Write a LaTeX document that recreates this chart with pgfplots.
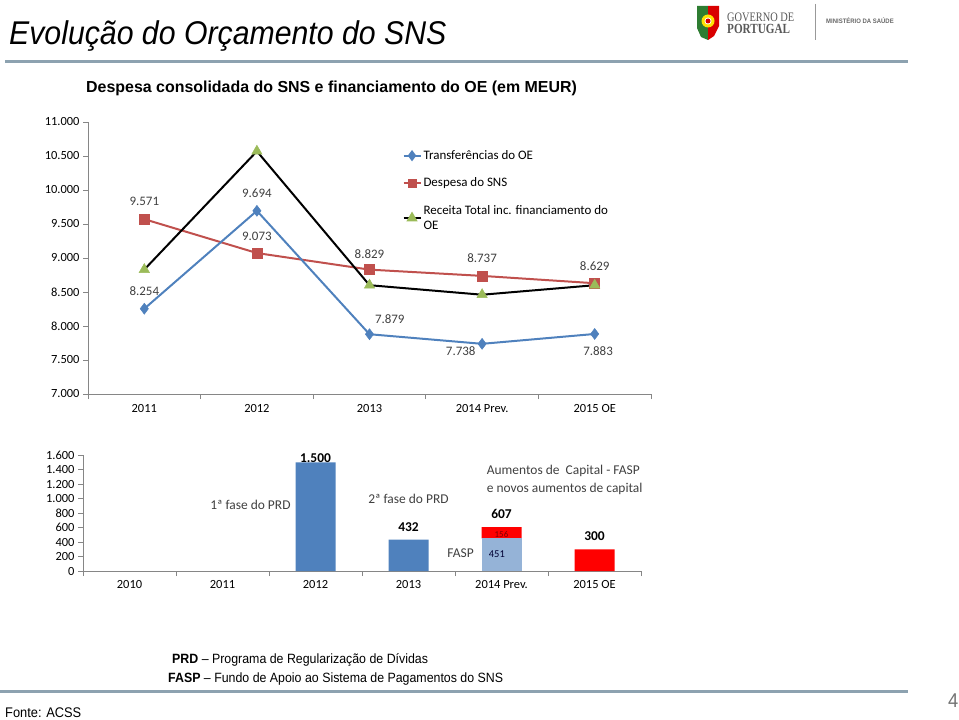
\documentclass[border=0pt]{standalone}
\usepackage{pgfplots}
\pgfplotsset{compat=1.18}
\usepackage{fontspec}
\setmainfont{Carlito}
\newfontfamily\narrow[FakeStretch=0.92]{Liberation Sans}
\newfontfamily\subt[FakeStretch=1.0]{Liberation Sans}
\newfontfamily\serifl[FakeStretch=0.8]{Liberation Serif}
\definecolor{tblue}{HTML}{4F81BD}
\definecolor{dred}{HTML}{C0504D}
\definecolor{rgreen}{HTML}{9BBB59}
\definecolor{lblue}{HTML}{95B3D7}
\definecolor{rulec}{HTML}{8DA2B0}
\definecolor{axc}{HTML}{868686}
\definecolor{txt}{HTML}{404040}
\definecolor{pgreen}{HTML}{2E7D32}
\tikzset{lab/.style={font=\fontsize{13}{15}\selectfont, text=txt},
  blab/.style={font=\fontsize{13.5}{15}\selectfont\bfseries, text=black},
  ann/.style={font=\fontsize{13.5}{15}\selectfont, text=txt}}
\begin{document}
\begin{tikzpicture}[x=1bp,y=-1bp]
\path[use as bounding box] (0,0) rectangle (959,720);
% header
\node[anchor=base west, inner sep=0] at (9,45) {\fontsize{33}{38}\selectfont\narrow\itshape Evolução do Orçamento do SNS};
\draw[rulec, line width=3bp] (5,62) -- (908,62);
\node[anchor=base west, inner sep=0] at (86,93) {\fontsize{16}{18}\selectfont\subt\bfseries Despesa consolidada do SNS e financiamento do OE (em MEUR)};
% logo
\fill[pgreen] (697,6) -- (708,6) -- (708,40) -- (701,37) -- (697,28) -- cycle;
\fill[red!85!black] (708,6) -- (719,6) -- (719,26) -- (714,36) -- (708,40) -- cycle;
\fill[yellow!85!orange] (708,21) circle (6.5);
\fill[white] (708,21) circle (3.5);
\fill[red!85!black] (708,21) circle (2.5);
\node[anchor=base west, inner sep=0, text=black!65] at (727,22) {\fontsize{13}{14}\selectfont\serifl GOVERNO DE};
\node[anchor=base west, inner sep=0, text=black!65] at (727,34) {\fontsize{14}{15}\selectfont\serifl\bfseries PORTUGAL};
\draw[black!40, line width=0.8bp] (815,4) -- (815,40);
\node[anchor=base west, inner sep=0, text=black!60] at (826,24) {\fontsize{6.5}{7}\selectfont\narrow\bfseries MINISTÉRIO DA SAÚDE};
% top chart
\begin{axis}[at={(88bp,-394bp)}, anchor=south west, scale only axis, width=563bp, height=272bp,
  xmin=-0.5, xmax=4.5, ymin=7000, ymax=11000, clip=false,
  axis lines=left, axis line style={axc, -, line width=0.8bp},
  xtick={-0.5,0.5,...,4.5}, xticklabels={,,,,,,},
  extra x ticks={0,1,2,3,4}, extra x tick labels={2011,2012,2013,2014 Prev.,2015 OE},
  extra x tick style={major tick length=0pt, xticklabel style={yshift=-7bp}},
  ytick={7000,7500,...,11000},
  tick align=outside, major tick length=5bp, tick style={axc, line width=0.8bp},
  scaled y ticks=false,
  yticklabel style={/pgf/number format/.cd, 1000 sep={.}, fixed, assume math mode=true},
  xticklabel style={/pgf/number format/assume math mode=true},
  ticklabel style={font=\fontsize{12.5}{14}\selectfont, text=black},
]
\addplot[dred, line width=2bp, mark=square*, mark size=5bp, mark options={fill=dred, line width=0.5bp}] coordinates {(0,9571)(1,9073)(2,8829)(3,8737)(4,8629)};
\addplot[black, line width=2bp, mark=triangle*, mark size=6bp, mark options={fill=rgreen, draw=rgreen, line width=0.5bp}] coordinates {(0,8830)(1,10570)(2,8600)(3,8460)(4,8600)};
\addplot[tblue, line width=2bp, mark=diamond*, mark size=5.5bp, mark options={fill=tblue, line width=0.5bp}] coordinates {(0,8254)(1,9694)(2,7879)(3,7738)(4,7883)};
\end{axis}
\begin{axis}[at={(88bp,-394bp)}, anchor=south west, scale only axis, width=563bp, height=272bp,
  xmin=-0.5, xmax=4.5, ymin=7000, ymax=11000, clip=false, hide axis,
  legend style={at={(0.553,0.911)}, anchor=north west, draw=none, fill=none,
    font=\fontsize{13}{15}\selectfont, row sep=13bp, cells={anchor=west, align=left}},
  legend cell align=left,
]
\addlegendimage{tblue, line width=2bp, mark=diamond*, mark size=4bp, mark options={fill=tblue}}
\addlegendentry{Transferências do OE}
\addlegendimage{dred, line width=2bp, mark=square*, mark size=3.5bp, mark options={fill=dred}}
\addlegendentry{Despesa do SNS}
\addlegendimage{black, line width=2bp, mark=triangle*, mark size=4.5bp, mark options={fill=rgreen, draw=rgreen}}
\addlegendentry{Receita Total inc. financiamento do\\OE}
\node[lab] at (axis cs:0,9840) {9.571};
\node[lab] at (axis cs:0,8515) {8.254};
\node[lab] at (axis cs:1,9956) {9.694};
\node[lab] at (axis cs:1,9324) {9.073};
\node[lab] at (axis cs:2,9059) {8.829};
\node[lab] at (axis cs:2.18,8103) {7.879};
\node[lab] at (axis cs:3,9000) {8.737};
\node[lab] at (axis cs:2.81,7632) {7.738};
\node[lab] at (axis cs:4,8882) {8.629};
\node[lab] at (axis cs:4.03,7632) {7.883};
\end{axis}
% bottom chart
\begin{axis}[at={(83bp,-571bp)}, anchor=south west, scale only axis, width=558bp, height=116bp,
  xmin=-0.5, xmax=5.5, ymin=0, ymax=1600, clip=false,
  ybar stacked, bar width=40bp,
  axis lines=left, axis line style={axc, -, line width=0.8bp},
  xtick={-0.5,0.5,...,5.5}, xticklabels={,,,,,,,},
  extra x ticks={0,1,2,3,4,5}, extra x tick labels={2010,2011,2012,2013,2014 Prev.,2015 OE},
  extra x tick style={major tick length=0pt, xticklabel style={yshift=-6bp}},
  ytick={0,200,...,1600},
  tick align=outside, major tick length=5bp, tick style={axc, line width=0.8bp},
  scaled y ticks=false,
  yticklabel style={/pgf/number format/.cd, 1000 sep={.}, fixed, assume math mode=true},
  xticklabel style={/pgf/number format/assume math mode=true},
  ticklabel style={font=\fontsize{12.5}{14}\selectfont, text=black},
]
\addplot[fill=tblue, draw=none] coordinates {(0,0)(1,0)(2,1500)(3,432)(4,0)(5,0)};
\addplot[fill=lblue, draw=none] coordinates {(0,0)(1,0)(2,0)(3,0)(4,451)(5,0)};
\addplot[fill=red, draw=none] coordinates {(0,0)(1,0)(2,0)(3,0)(4,156)(5,300)};
\end{axis}
\begin{axis}[at={(83bp,-571bp)}, anchor=south west, scale only axis, width=558bp, height=116bp,
  xmin=-0.5, xmax=5.5, ymin=0, ymax=1600, clip=false, hide axis,
]
\node[blab] at (axis cs:2,1560) {1.500};
\node[blab] at (axis cs:3,607) {432};
\node[blab] at (axis cs:4,786) {607};
\node[blab] at (axis cs:5,483) {300};
\node[font=\fontsize{9}{10}\selectfont, text=red!50!black] at (axis cs:4,510) {156};
\node[font=\fontsize{10.5}{11}\selectfont, text=black!80!blue] at (axis cs:3.95,234) {451};
\node[ann] at (axis cs:3.56,248) {FASP};
\node[ann] at (axis cs:1.3,910) {1ª fase do PRD};
\node[ann] at (axis cs:3,993) {2ª fase do PRD};
\node[ann, anchor=west, inner sep=0] at (axis cs:3.84,1379) {Aumentos de\ \ Capital - FASP};
\node[ann, anchor=west, inner sep=0] at (axis cs:3.84,1131) {e novos aumentos de capital};
\end{axis}
% footer
\node[anchor=base west, inner sep=0] at (172,663) {\fontsize{13.5}{15}\selectfont\narrow\textbf{PRD} – Programa de Regularização de Dívidas};
\node[anchor=base west, inner sep=0] at (168,682) {\fontsize{13.5}{15}\selectfont\narrow\textbf{FASP} – Fundo de Apoio ao Sistema de Pagamentos do SNS};
\draw[rulec, line width=3bp] (0,691) -- (908,691);
\node[anchor=base west, inner sep=0] at (5,717) {\fontsize{14}{15}\selectfont\narrow Fonte: ACSS};
\node[anchor=base west, inner sep=0, text=black!55] at (948,707) {\fontsize{20}{22}\selectfont\narrow 4};
\end{tikzpicture}
\end{document}
